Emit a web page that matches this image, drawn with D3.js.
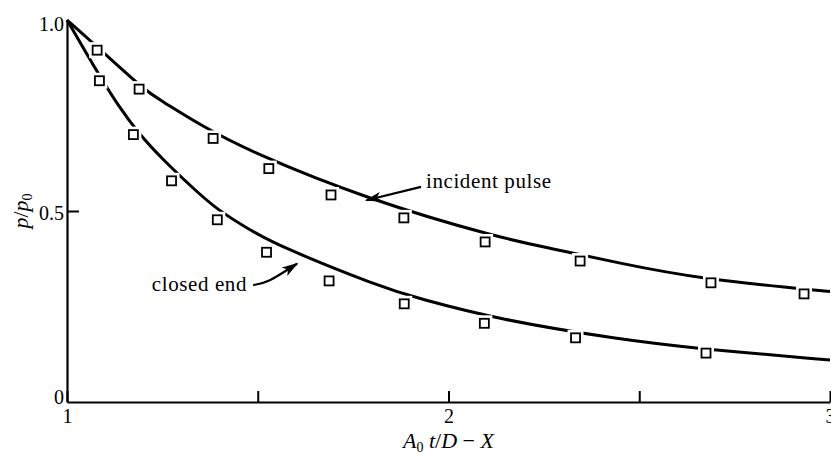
<!DOCTYPE html>
<html>
<head>
<meta charset="utf-8">
<script src="https://cdn.jsdelivr.net/npm/d3@7"></script>
<style>
  body { margin: 0; background: #fff; }
  text { font-family: "Liberation Serif", "Times New Roman", serif; fill: #000; }
</style>
</head>
<body>
<div class="chart"></div>
<script>
// measured points (x = A0 t/D - X, y = p/p0)
var incidentX = [1.079, 1.189, 1.383, 1.529, 1.692, 1.883, 2.096, 2.345, 2.688, 2.932];
var incidentY = [0.921, 0.819, 0.690, 0.611, 0.542, 0.482, 0.419, 0.369, 0.312, 0.283];
var closedX = [1.085, 1.174, 1.274, 1.394, 1.523, 1.687, 1.884, 2.094, 2.333, 2.675];
var closedY = [0.841, 0.700, 0.579, 0.477, 0.392, 0.317, 0.257, 0.206, 0.168, 0.128];

// fitted curves as drawn
var incidentCurveX = [1, 1.068, 1.208, 1.244, 1.349, 1.480, 1.786, 2.135, 2.266, 2.449, 2.659, 3.0];
var incidentCurveY = [1, 0.940, 0.812, 0.791, 0.725, 0.655, 0.531, 0.429, 0.403, 0.363, 0.322, 0.289];
var closedCurveX = [1, 1.081, 1.134, 1.191, 1.252, 1.331, 1.394, 1.480, 1.558, 1.820, 1.917, 2.135, 2.449, 2.659, 3.0];
var closedCurveY = [1, 0.861, 0.776, 0.699, 0.634, 0.559, 0.503, 0.450, 0.407, 0.302, 0.272, 0.215, 0.164, 0.139, 0.110];

var xTicks = [1, 1.5, 2, 2.5, 3];
var xTickLabels = {1: "1", 2: "2", 3: "3"};
var yTicks = [0, 0.5, 1];
var yTickLabels = {0: "0", 0.5: "0.5", 1: "1.0"};

var svgWidth = 831, svgHeight = 456;
var margin = { top: 20, right: 1, bottom: 54, left: 67 };

var svg = d3.select(".chart")
  .append("svg")
  .attr("width", svgWidth)
  .attr("height", svgHeight)
  .style("display", "block")
  .style("background", "#fff");

var x = d3.scaleLinear().domain([1, 3]).range([margin.left, svgWidth - margin.right]);
var y = d3.scaleLinear().domain([0, 1]).range([svgHeight - margin.bottom, margin.top]);

// axes
var xAxis = svg.append("g")
  .attr("transform", `translate(0,${y(0)})`)
  .call(d3.axisTop(x).tickValues(xTicks).tickSize(11).tickSizeOuter(0).tickFormat(""));
xAxis.select(".domain").attr("stroke-width", 2.2);
xAxis.selectAll(".tick line").attr("stroke-width", 2);

xAxis.selectAll(".tick")
  .filter(d => xTickLabels[d])
  .append("text")
  .attr("y", 21)
  .attr("text-anchor", "middle")
  .style("font-size", "20px")
  .text(d => xTickLabels[d]);

var yAxis = svg.append("g")
  .attr("transform", `translate(${x(1)},0)`)
  .call(d3.axisRight(y).tickValues(yTicks).tickSize(12).tickSizeOuter(0).tickFormat(""));
yAxis.select(".domain").attr("stroke-width", 2.2);
yAxis.selectAll(".tick line")
  .attr("stroke-width", 2)
  .attr("x2", d => d == 0.5 ? 12 : 0);

yAxis.selectAll(".tick")
  .append("text")
  .attr("x", -3)
  .attr("dy", d => d == 1 ? "0.5em" : d == 0 ? "0.05em" : "0.4em")
  .attr("text-anchor", "end")
  .style("font-size", "20px")
  .text(d => yTickLabels[d]);

// curves
var line = d3.line()
  .x(d => x(d[0]))
  .y(d => y(d[1]))
  .curve(d3.curveBasis);

var curves = [
  d3.zip(incidentCurveX, incidentCurveY),
  d3.zip(closedCurveX, closedCurveY)
];

svg.append("g")
  .selectAll("path")
  .data(curves)
  .join("path")
  .attr("d", line)
  .attr("fill", "none")
  .attr("stroke", "#000")
  .attr("stroke-width", 3);

// markers, white halo makes the little gaps in the curve
var pts = d3.zip(incidentX, incidentY).concat(d3.zip(closedX, closedY));
var size = 9;

svg.append("g")
  .selectAll("rect")
  .data(pts)
  .join("rect")
  .attr("x", d => x(d[0]) - size / 2)
  .attr("y", d => y(d[1]) - size / 2)
  .attr("width", size)
  .attr("height", size)
  .attr("fill", "#fff")
  .attr("stroke", "#fff")
  .attr("stroke-width", 7);

svg.append("g")
  .selectAll("rect")
  .data(pts)
  .join("rect")
  .attr("x", d => x(d[0]) - size / 2)
  .attr("y", d => y(d[1]) - size / 2)
  .attr("width", size)
  .attr("height", size)
  .attr("fill", "#fff")
  .attr("stroke", "#000")
  .attr("stroke-width", 1.8);

// annotations
svg.append("defs").append("marker")
  .attr("id", "head")
  .attr("viewBox", "0 0 10 10")
  .attr("refX", 9)
  .attr("refY", 5)
  .attr("markerWidth", 7.5)
  .attr("markerHeight", 4.5)
  .attr("markerUnits", "strokeWidth")
  .attr("orient", "auto")
  .attr("preserveAspectRatio", "none")
  .append("path")
  .attr("d", "M0,0 L10,5 L0,10 L2.5,5 Z")
  .attr("fill", "#000");

var incidentArrow = [[1.928, 0.563], [1.785, 0.528]];
svg.append("path")
  .attr("d", d3.line().x(d => x(d[0])).y(d => y(d[1]))(incidentArrow))
  .attr("fill", "none")
  .attr("stroke", "#000")
  .attr("stroke-width", 2.2)
  .attr("marker-end", "url(#head)");

var closedArrow = [[1.488, 0.306], [1.530, 0.318], [1.603, 0.362]];
svg.append("path")
  .attr("d", d3.line().x(d => x(d[0])).y(d => y(d[1])).curve(d3.curveNatural)(closedArrow))
  .attr("fill", "none")
  .attr("stroke", "#000")
  .attr("stroke-width", 2.2)
  .attr("marker-end", "url(#head)");

svg.append("text")
  .attr("x", x(1.941))
  .attr("y", y(0.560))
  .style("font-size", "21px")
  .style("letter-spacing", "0.6px")
  .text("incident pulse");

svg.append("text")
  .attr("x", x(1.472))
  .attr("y", y(0.291))
  .attr("text-anchor", "end")
  .style("font-size", "21px")
  .style("letter-spacing", "0.6px")
  .text("closed end");

// axis titles
var xTitle = svg.append("text")
  .attr("x", x(2))
  .attr("y", 448)
  .attr("text-anchor", "middle")
  .style("font-size", "22px");
xTitle.append("tspan").style("font-style", "italic").text("A");
xTitle.append("tspan").attr("dy", 4).style("font-size", "14px").text("0");
xTitle.append("tspan").attr("dy", -4).style("font-style", "italic").text(" t");
xTitle.append("tspan").text("/");
xTitle.append("tspan").style("font-style", "italic").text("D");
xTitle.append("tspan").text(" − ");
xTitle.append("tspan").style("font-style", "italic").text("X");

var yTitle = svg.append("text")
  .attr("transform", `translate(28,${y(0.5)}) rotate(-90)`)
  .attr("text-anchor", "middle")
  .style("font-size", "22px");
yTitle.append("tspan").style("font-style", "italic").text("p");
yTitle.append("tspan").text("/");
yTitle.append("tspan").style("font-style", "italic").text("p");
yTitle.append("tspan").attr("dy", 4).style("font-size", "14px").text("0");
</script>
</body>
</html>
